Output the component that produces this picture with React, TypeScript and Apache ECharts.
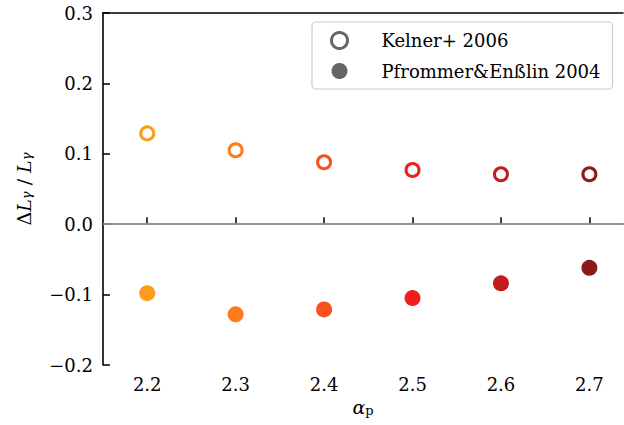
import React, { useEffect, useRef } from "react";
import * as echarts from "echarts";

const alphas = [2.2, 2.3, 2.4, 2.5, 2.6, 2.7];
const kelner = [0.129, 0.105, 0.088, 0.077, 0.071, 0.071];
const pfrommer = [-0.098, -0.128, -0.121, -0.105, -0.084, -0.062];
const colors = ["#fe9a1c", "#fd7b1c", "#fc4f1e", "#f01f1c", "#c21d1d", "#8c1a1a"];
const yTicks = [-0.2, -0.1, 0.0, 0.1, 0.2, 0.3];
const xTicks = [2.2, 2.3, 2.4, 2.5, 2.6, 2.7];

const FONT = "DejaVu Serif";

export default function App() {
  const ref = useRef<HTMLDivElement>(null);
  useEffect(() => {
    if (!ref.current) return;
    const chart = echarts.init(ref.current, null, { renderer: "svg" });
    const fmt = (v: number) => {
      const r = Math.round(v * 10) / 10;
      return (r < 0 ? "\u2212" : "") + Math.abs(r).toFixed(1);
    };
    chart.setOption({
      animation: false,
      backgroundColor: "#ffffff",
      textStyle: { fontFamily: FONT },
      grid: { left: 103, right: 1, top: 13, bottom: 60, outerBoundsMode: "none", containLabel: false },
      legend: {
        orient: "vertical",
        left: 312,
        top: 22,
        padding: [9, 12, 9, 18],
        itemGap: 12,
        itemWidth: 16,
        itemHeight: 16,
        backgroundColor: "#ffffff",
        borderColor: "#cccccc",
        borderWidth: 1.2,
        borderRadius: 4,
        textStyle: { fontFamily: FONT, fontSize: 18, color: "#000", padding: [0, 0, 0, 29] },
        data: [
          { name: "Kelner+ 2006", icon: "circle", itemStyle: { color: "#ffffff", borderColor: "#666666", borderWidth: 3, opacity: 1 } },
          { name: "Pfrommer&Enßlin 2004", icon: "circle", itemStyle: { color: "#666666", borderWidth: 0, opacity: 1 } },
        ],
      },
      xAxis: [
        {
          type: "value",
          min: 2.15,
          max: 2.738,
          splitLine: { show: false },
          axisLine: { lineStyle: { color: "#000", width: 1.6 } },
          axisTick: { inside: true, length: 7, lineStyle: { color: "#000", width: 1.5 }, customValues: xTicks },
          axisLabel: { customValues: xTicks, fontFamily: FONT, fontSize: 18, color: "#000", margin: 10, formatter: (v: number) => v.toFixed(1) },
          name: "{a|α}{s|p}",
          nameLocation: "middle",
          nameGap: 30,
          nameTextStyle: {
            rich: {
              a: { fontFamily: FONT, fontStyle: "italic", fontSize: 19, color: "#000" },
              s: { fontFamily: FONT, fontSize: 13, color: "#000", padding: [6, 0, 0, 0] },
            },
          },
        },
        {
          type: "value",
          position: "top",
          min: 2.15,
          max: 2.738,
          splitLine: { show: false },
          axisLine: { lineStyle: { color: "#000", width: 1.6 } },
          axisTick: { show: false },
          axisLabel: { show: false },
        },
      ],
      yAxis: {
        type: "value",
        min: -0.2,
        max: 0.3,
        interval: 0.1,
        splitLine: { show: false },
        axisLine: { show: true, lineStyle: { color: "#000", width: 1.6 } },
        axisTick: { inside: true, length: 7, lineStyle: { color: "#000", width: 1.5 } },
        axisLabel: { fontFamily: FONT, fontSize: 18, color: "#000", margin: 10, formatter: (v: number) => fmt(v), customValues: yTicks },
        name: "{d|Δ}{l|L}{g|γ}{d| / }{l|L}{g|γ}",
        nameLocation: "middle",
        nameRotate: 90,
        nameGap: 70,
        nameTextStyle: {
          rich: {
            d: { fontFamily: FONT, fontSize: 19, color: "#000" },
            l: { fontFamily: FONT, fontStyle: "italic", fontSize: 19, color: "#000" },
            g: { fontFamily: FONT, fontStyle: "italic", fontSize: 13, color: "#000", padding: [6, 0, 0, 0] },
          },
        },
      },
      series: [
        {
          name: "Kelner+ 2006",
          type: "scatter",
          symbol: "circle",
          symbolSize: 13,
          z: 3,
          itemStyle: { color: "#ffffff", borderColor: "#666666", borderWidth: 3, opacity: 1 },
          data: alphas.map((a, i) => ({
            value: [a, kelner[i]],
            itemStyle: { color: "#ffffff", borderColor: colors[i], borderWidth: 3, opacity: 1 },
          })),
          markLine: {
            silent: true,
            symbol: ["none", "none"],
            label: { show: false },
            lineStyle: { color: "#b0b0b0", width: 1.6, type: "solid" },
            data: [{ yAxis: 0 }],
            z: 1,
          },
        },
        {
          name: "Pfrommer&Enßlin 2004",
          type: "scatter",
          symbol: "circle",
          symbolSize: 16,
          z: 3,
          itemStyle: { color: "#666666", opacity: 1 },
          data: alphas.map((a, i) => ({
            value: [a, pfrommer[i]],
            itemStyle: { color: colors[i], opacity: 1 },
          })),
        },
      ],
    });
    return () => chart.dispose();
  }, []);
  return <div ref={ref} style={{ position: "fixed", left: 0, top: 0, width: 624, height: 425 }} />;
}
